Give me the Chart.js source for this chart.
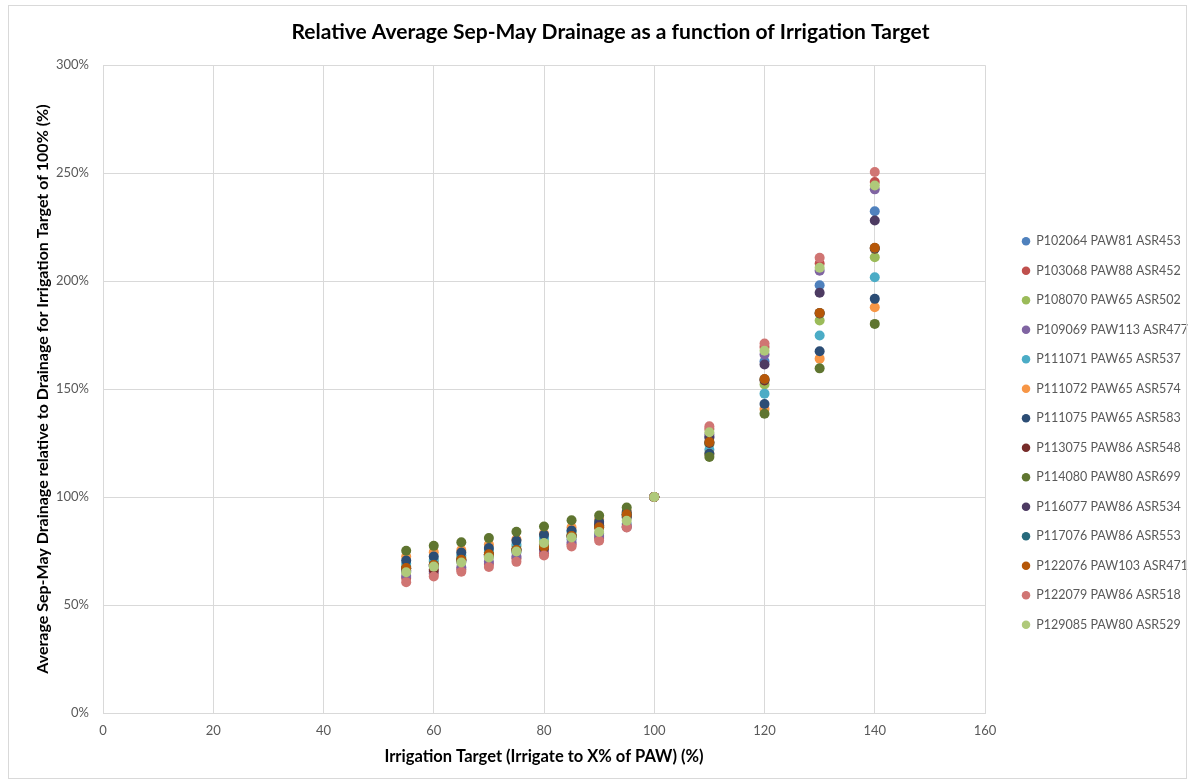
<!DOCTYPE html>
<html>
<head>
<meta charset="utf-8">
<script src="https://cdn.jsdelivr.net/npm/chart.js@4"></script>
<style>
  html, body { margin: 0; padding: 0; background: #fff; }
  #wrap { position: relative; width: 1194px; height: 783px; }
  #frame { position: absolute; left: 8px; top: 5px; width: 1177px; height: 772px; border: 1px solid #d9d9d9; pointer-events: none; }
</style>
</head>
<body>
<div id="wrap">
  <canvas id="myChart" width="1194" height="783"></canvas>
  <div id="frame"></div>
</div>
<script>
  // irrigation targets (x)
  var targets = [55, 60, 65, 70, 75, 80, 85, 90, 95, 100, 110, 120, 130, 140];

  var names = [
    'P102064 PAW81 ASR453', 'P103068 PAW88 ASR452', 'P108070 PAW65 ASR502',
    'P109069 PAW113 ASR477', 'P111071 PAW65 ASR537', 'P111072 PAW65 ASR574',
    'P111075 PAW65 ASR583', 'P113075 PAW86 ASR548', 'P114080 PAW80 ASR699',
    'P116077 PAW86 ASR534', 'P117076 PAW86 ASR553', 'P122076 PAW103 ASR471',
    'P122079 PAW86 ASR518', 'P129085 PAW80 ASR529'
  ];

  var colors = ['#4F81BD', '#C0504D', '#9BBB59', '#8064A2', '#4BACC6', '#F79646',
    '#2C4D75', '#772C2A', '#5F7530', '#4D3B62', '#276A7C', '#B65708', '#D07573', '#AFC97A'];

  // relative drainage (%), one array per site
  var p102064 = [65.5, 68, 70, 72.5, 74.5, 77, 80.5, 83, 87.5, 100, 128, 162.9, 198.1, 232.4];
  var p103068 = [62.5, 64.5, 66.5, 69, 71.5, 74, 78, 81, 86.5, 100, 131.5, 169.5, 208.2, 245.9];
  var p108070 = [68, 70, 72, 74.5, 77, 79.5, 83, 87, 91, 100, 124.5, 152.1, 181.8, 211.1];
  var p109069 = [63.5, 65.5, 67.5, 70, 72.5, 75.5, 79, 82, 86, 100, 129, 166, 204.8, 242.5];
  var p111071 = [69.1, 70.9, 73, 75.5, 78, 81, 84, 87.5, 92, 100, 121.9, 147.9, 174.8, 201.8];
  var p111072 = [72.5, 74.5, 75.5, 78, 80.5, 83, 86, 89.5, 93.5, 100, 120, 140.8, 164.1, 187.9];
  var p111075 = [70.6, 72.5, 74.3, 76.4, 79.8, 82.5, 84.5, 88.5, 93, 100, 120.1, 143.1, 167.5, 191.8];
  var p113075 = [67, 66.3, 70.9, 73.5, 75.5, 76.4, 82, 86.5, 91.5, 100, 125, 154, 185, 215];
  var p114080 = [75.1, 77.4, 79.1, 81, 83.9, 86.4, 89.3, 91.5, 95.2, 100, 118.6, 138.6, 159.6, 180.2];
  var p116077 = [66, 68.5, 70.5, 73, 75.5, 78, 82, 86.9, 90.5, 100, 127.5, 161.4, 194.6, 228.1];
  var p117076 = [67, 68.6, 71, 73.4, 75.6, 77, 82, 86, 92, 100, 125.4, 154.6, 185.2, 215.3];
  var p122076 = [67.1, 68.5, 71, 73.5, 75.5, 77, 82, 86, 92, 100, 125.5, 154.7, 185.3, 215.5];
  var p122079 = [60.6, 63.2, 65.4, 67.6, 70, 72.9, 77.1, 79.8, 85.9, 100, 132.8, 171.1, 210.8, 250.5];
  var p129085 = [65.2, 67.8, 69.7, 72, 74.8, 78.7, 81.3, 83.8, 89, 100, 130, 167.8, 206.2, 244.3];

  var series = [p102064, p103068, p108070, p109069, p111071, p111072, p111075,
    p113075, p114080, p116077, p117076, p122076, p122079, p129085];

  var yTicks = [0, 50, 100, 150, 200, 250, 300];

  var font = 'Lato, "Open Sans", sans-serif';
  var grey = '#595959';
  var gridColor = '#d9d9d9';

  var datasets = series.map(function (vals, i) {
    return {
      label: names[i],
      data: vals.map(function (v, j) { return { x: targets[j], y: v }; }),
      backgroundColor: colors[i],
      borderColor: colors[i],
      borderWidth: 0,
      pointRadius: 5,
      pointHoverRadius: 5,
      order: series.length - i   // later series drawn on top, like Excel
    };
  });

  var ctx = document.getElementById('myChart');

  new Chart(ctx, {
    type: 'scatter',
    data: { datasets: datasets },
    options: {
      responsive: false,
      animation: false,
      layout: { padding: { left: 23, right: -4, top: 0, bottom: 0 } },
      plugins: {
        title: {
          display: true,
          text: 'Relative Average Sep-May Drainage as a function of Irrigation Target',
          color: '#000',
          font: { family: font, size: 21, weight: 'bold' },
          padding: { top: 20, bottom: 20 }
        },
        legend: {
          position: 'right',
          title: { display: true, text: '', font: { size: 10 }, padding: { top: 71, bottom: 0 } },
          labels: {
            usePointStyle: true,
            pointStyle: 'circle',
            boxWidth: 8,
            boxHeight: 6,
            padding: 17,
            color: grey,
            font: { family: font, size: 12.5 },
            sort: function (a, b) { return a.datasetIndex - b.datasetIndex; }
          }
        },
        tooltip: { enabled: false }
      },
      scales: {
        x: {
          type: 'linear',
          min: 0,
          max: 160,
          ticks: { stepSize: 20, color: grey, padding: 10, font: { family: font, size: 13 } },
          grid: { color: gridColor, drawTicks: false },
          border: { color: gridColor },
          title: {
            display: true,
            text: 'Irrigation Target (Irrigate to X% of PAW) (%)',
            color: '#000',
            font: { family: font, size: 16.5, weight: 'bold' },
            padding: { top: 4, bottom: 16 }
          },
          afterFit: function (s) { s.height = 70; }
        },
        y: {
          type: 'linear',
          min: 0,
          max: 300,
          afterBuildTicks: function (s) { s.ticks = yTicks.map(function (v) { return { value: v }; }); },
          ticks: {
            color: grey,
            padding: 14,
            font: { family: font, size: 13 },
            callback: function (v) { return v + '%'; }
          },
          grid: { color: gridColor, drawTicks: false },
          border: { color: gridColor },
          title: {
            display: true,
            text: 'Average Sep-May Drainage relative to Drainage for Irrigation Target of 100% (%)',
            color: '#000',
            font: { family: font, size: 16, weight: 'bold' },
            padding: { top: 10, bottom: 4 }
          },
          afterFit: function (s) { s.width = 80; }
        },
        // empty spacer between plot and legend
        gap: {
          type: 'linear',
          position: 'right',
          display: true,
          grid: { display: false },
          border: { display: false },
          ticks: { display: false },
          afterFit: function (s) { s.width = 20; }
        }
      }
    }
  });
</script>
</body>
</html>
